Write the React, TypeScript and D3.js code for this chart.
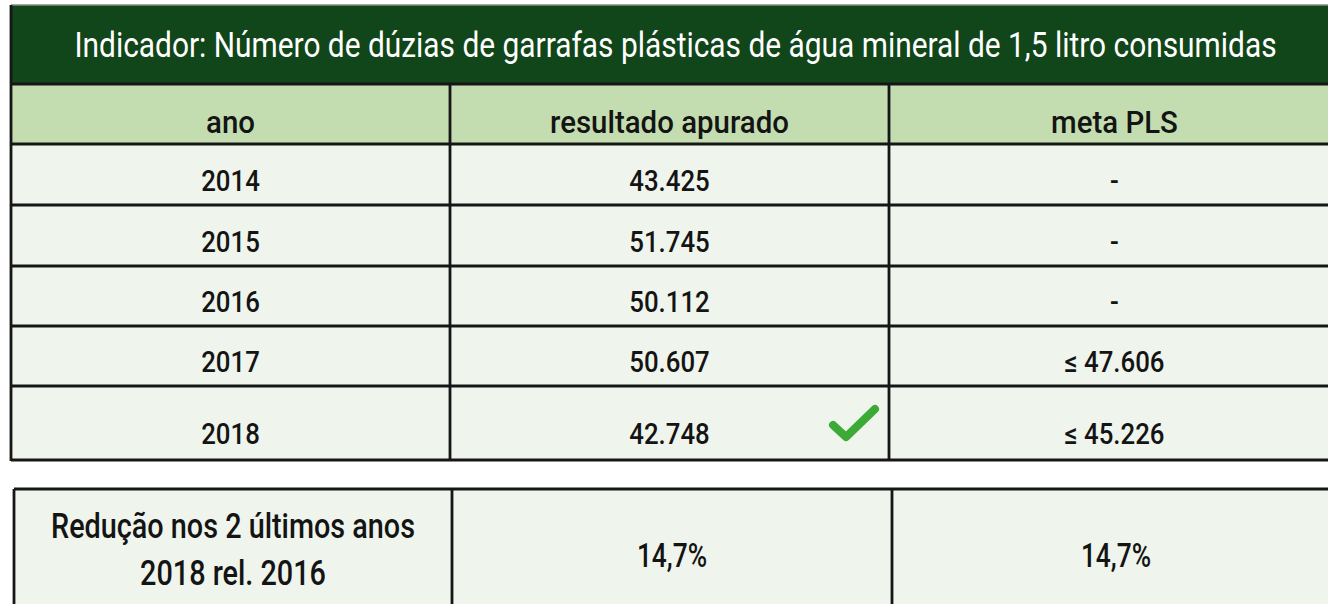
import React from "react";
import * as d3 from "d3";

const title = "Indicador: Número de dúzias de garrafas plásticas de água mineral de 1,5 litro consumidas";
const headers = ["ano", "resultado apurado", "meta PLS"];
const years = ["2014", "2015", "2016", "2017", "2018"];
const resultados = ["43.425", "51.745", "50.112", "50.607", "42.748"];
const metas = ["-", "-", "-", "≤ 47.606", "≤ 45.226"];
const metAchieved = [false, false, false, false, true];
const summaryLabel = ["Redução nos 2 últimos anos", "2018 rel. 2016"];
const summaryValues = ["14,7%", "14,7%"];

const W = 1328;
const H = 604;
const FONT = "Roboto, 'Noto Sans', sans-serif";

const DARK = "#11451a";
const HEAD = "#c4ddb0";
const BODY = "#eff5ec";
const LINE = "#161616";
const CHECK = "#3caa36";

function T({ x, y, size, sx, fill = "#141414", weight = 500, children }: any) {
  return (
    <text
      transform={`translate(${x},${y}) scale(${sx},1)`}
      textAnchor="middle"
      fontFamily={FONT}
      fontSize={size}
      fontWeight={weight}
      fill={fill}
    >
      {children}
    </text>
  );
}

export default function App() {
  // table 1 geometry
  const x1 = d3.scaleOrdinal<number, number>().domain([0, 1, 2, 3]).range([11, 450, 889, 1340]);
  const top = 5;
  const titleBottom = 84;
  const headerBottom = 144;
  const rowBottoms = [205, 266, 326, 386, 460];
  const rowTops = [headerBottom, ...rowBottoms.slice(0, -1)];
  const colCenter = (i: number) => (x1(i) + x1(i + 1)) / 2;
  const rightEdge = 1328;
  const tableCenter = (x1(0) + rightEdge) / 2;

  // table 2 geometry
  const x2 = d3.scaleOrdinal<number, number>().domain([0, 1, 2, 3]).range([14, 452, 892, 1340]);
  const t2Top = 489;
  const t2Bottom = 640;
  const c2 = (i: number) => (x2(i) + x2(i + 1)) / 2;

  const i18 = metAchieved.indexOf(true);
  const cx = x1(2);
  const cy = rowBottoms[i18];
  const checkPts: [number, number][] = [
    [cx - 56, cy - 35],
    [cx - 43, cy - 23],
    [cx - 14, cy - 51],
  ];
  const checkPath = d3.line()(checkPts) || "";

  return (
    <svg width={W} height={H} style={{ position: "absolute", left: 0, top: 0, background: "#fff" }}>
      {/* title */}
      <rect x={x1(0)} y={top} width={x1(3) - x1(0)} height={titleBottom - top} fill={DARK} />
      <line x1={x1(0)} x2={x1(3)} y1={top} y2={top} stroke="#8a8a8a" strokeWidth={1.5} />
      <T x={tableCenter + 6} y={57} size={36} sx={0.83} fill="#ffffff" weight={400}>
        {title}
      </T>

      {/* header */}
      <rect x={x1(0)} y={titleBottom} width={x1(3) - x1(0)} height={headerBottom - titleBottom} fill={HEAD} />
      {headers.map((h, i) => (
        <T key={h} x={colCenter(i)} y={133} size={32} sx={0.92}>
          {h}
        </T>
      ))}

      {/* body rows */}
      {years.map((yr, r) => (
        <g key={yr}>
          <rect x={x1(0)} y={rowTops[r]} width={x1(3) - x1(0)} height={rowBottoms[r] - rowTops[r]} fill={BODY} />
          <T x={colCenter(0)} y={rowBottoms[r] - (r === 4 ? 16 : 14)} size={30} sx={0.86}>
            {yr}
          </T>
          <T x={colCenter(1)} y={rowBottoms[r] - (r === 4 ? 16 : 14)} size={30} sx={0.86}>
            {resultados[r]}
          </T>
          <T x={colCenter(2)} y={rowBottoms[r] - (r === 4 ? 16 : 14)} size={30} sx={0.86}>
            {metas[r]}
          </T>
        </g>
      ))}

      {/* grid lines table 1 */}
      {[titleBottom, headerBottom, ...rowBottoms].map((y, i) => (
        <line key={"h" + i} x1={x1(0)} x2={x1(3)} y1={y} y2={y} stroke={LINE} strokeWidth={2.8} />
      ))}
      {[1, 2].map((c) => (
        <line key={"v" + c} x1={x1(c)} x2={x1(c)} y1={titleBottom} y2={rowBottoms[rowBottoms.length - 1]} stroke={LINE} strokeWidth={2.8} />
      ))}
      <line x1={x1(0)} x2={x1(0)} y1={top} y2={rowBottoms[rowBottoms.length - 1] + 1} stroke={LINE} strokeWidth={2.8} />

      {/* check mark */}
      <path d={checkPath} fill="none" stroke={CHECK} strokeWidth={8} strokeLinecap="round" strokeLinejoin="round" />

      {/* table 2 */}
      <rect x={x2(0)} y={t2Top} width={x2(3) - x2(0)} height={t2Bottom - t2Top} fill={BODY} />
      <line x1={x2(0)} x2={x2(3)} y1={t2Top} y2={t2Top} stroke={LINE} strokeWidth={2.8} />
      {[0, 1, 2].map((c) => (
        <line key={"v2" + c} x1={x2(c)} x2={x2(c)} y1={t2Top} y2={t2Bottom} stroke={LINE} strokeWidth={2.8} />
      ))}
      <T x={c2(0)} y={538} size={36} sx={0.8}>
        {summaryLabel[0]}
      </T>
      <T x={c2(0)} y={585} size={36} sx={0.8}>
        {summaryLabel[1]}
      </T>
      {summaryValues.map((v, i) => (
        <T key={i} x={c2(i + 1)} y={567} size={34} sx={0.775}>
          {v}
        </T>
      ))}
    </svg>
  );
}
